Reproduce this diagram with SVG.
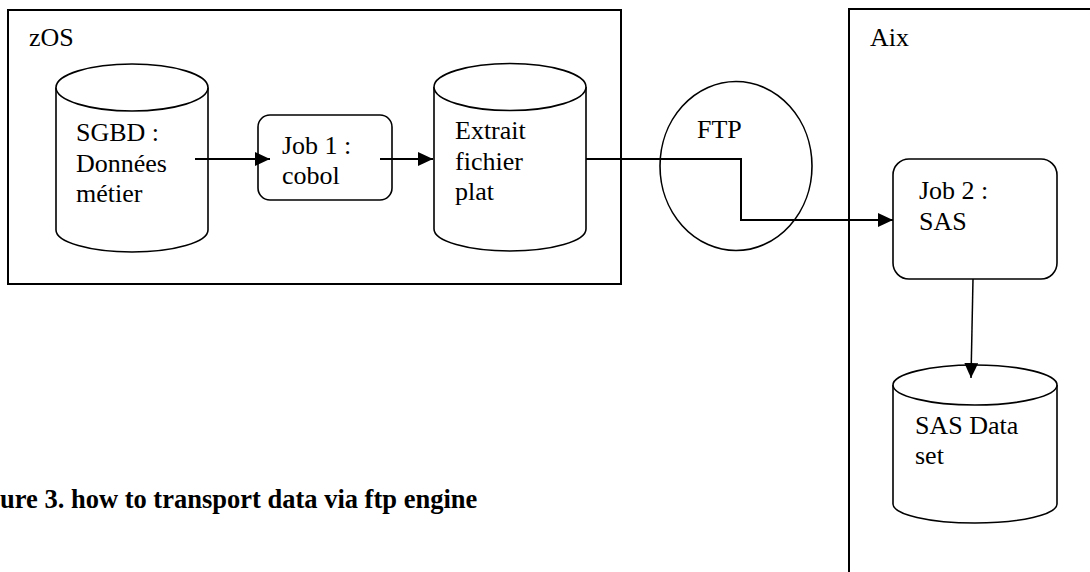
<svg xmlns="http://www.w3.org/2000/svg" width="1090" height="572" viewBox="0 0 1090 572">
  <style>
    .box { fill: none; stroke: #000; stroke-width: 2; }
    .shape { fill: #fff; stroke: #000; stroke-width: 1.6; }
    .t { font-family: "Liberation Serif", "Times New Roman", serif; font-size: 26px; fill: #000; }
    .cap { font-family: "Liberation Serif", "Times New Roman", serif; font-size: 26.5px; font-weight: bold; fill: #000; }
    .conn { fill: none; stroke: #000; stroke-width: 2; }
    .conn2 { fill: none; stroke: #000; stroke-width: 1.5; }
  </style>
  <defs>
    <marker id="ah" markerUnits="userSpaceOnUse" markerWidth="16" markerHeight="16" refX="15" refY="7" orient="auto">
      <path d="M0,0 L15,7 L0,14 z" fill="#000"/>
    </marker>
  </defs>
  <rect width="1090" height="572" fill="#fff"/>

  <g id="zos">
    <rect class="box" x="8" y="10" width="613" height="274"/>
    <text class="t" x="29" y="46">zOS</text>
  </g>

  <g id="aix">
    <rect class="box" x="849" y="9" width="300" height="600"/>
    <text class="t" x="870" y="46">Aix</text>
  </g>

  <g id="sgbd">
    <path class="shape" d="M56,87.5 L56,230 A76,22 0 0 0 208,230 L208,87.5"/>
    <ellipse class="shape" cx="132" cy="87.5" rx="76" ry="23.5"/>
    <text class="t" x="76" y="141">SGBD :</text>
    <text class="t" x="76" y="172">Données</text>
    <text class="t" x="76" y="202">métier</text>
  </g>

  <g id="job1">
    <rect class="shape" x="258" y="115" width="134" height="85" rx="12"/>
    <text class="t" x="282" y="154">Job 1 :</text>
    <text class="t" x="282" y="184">cobol</text>
  </g>

  <g id="extrait">
    <path class="shape" d="M434,87 L434,229 A76,22 0 0 0 586,229 L586,87"/>
    <ellipse class="shape" cx="510" cy="87" rx="76" ry="23.5"/>
    <text class="t" x="455" y="139">Extrait</text>
    <text class="t" x="455" y="170">fichier</text>
    <text class="t" x="455" y="200">plat</text>
  </g>

  <g id="ftp">
    <ellipse fill="none" stroke="#000" stroke-width="1.6" cx="736" cy="166" rx="76" ry="84.5"/>
    <text class="t" x="697" y="138">FTP</text>
  </g>

  <g id="job2">
    <rect class="shape" x="893" y="159" width="164" height="120" rx="16"/>
    <text class="t" x="919" y="199">Job 2 :</text>
    <text class="t" x="919" y="230">SAS</text>
  </g>

  <g id="sasdata">
    <path class="shape" d="M893,385 L893,504 A82,19 0 0 0 1057,504 L1057,385"/>
    <ellipse class="shape" cx="975" cy="385" rx="82" ry="20"/>
    <text class="t" x="915" y="434">SAS Data</text>
    <text class="t" x="915" y="464">set</text>
  </g>

  <g id="connectors">
    <line class="conn" x1="195" y1="159" x2="270" y2="159" marker-end="url(#ah)"/>
    <line class="conn" x1="380" y1="159" x2="433" y2="159" marker-end="url(#ah)"/>
    <polyline class="conn" points="586,159 741,159 741,220 893,220" marker-end="url(#ah)"/>
    <line class="conn2" x1="973" y1="279" x2="971" y2="378" marker-end="url(#ah)"/>
  </g>

  <text class="cap" x="0" y="508">ure 3. how to transport data via ftp engine</text>
</svg>
